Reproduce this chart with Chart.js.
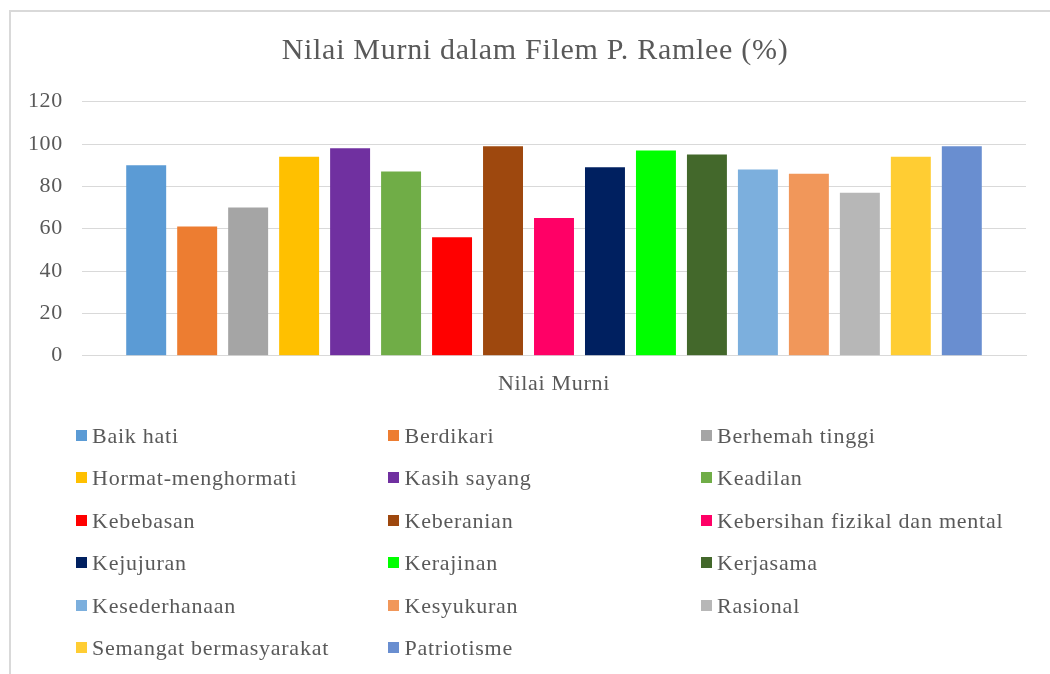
<!DOCTYPE html>
<html>
<head>
<meta charset="utf-8">
<script src="https://cdn.jsdelivr.net/npm/chart.js@4/dist/chart.umd.min.js"></script>
<style>
  html, body { margin: 0; padding: 0; overflow: hidden; background: #fff; width: 1050px; height: 674px; }
  #wrap { position: relative; width: 1050px; height: 674px; overflow: hidden; }
  #frame { position: absolute; left: 9px; top: 10px; width: 2000px; height: 2000px;
           border-top: 2px solid #d9d9d9; border-left: 2px solid #d9d9d9; box-sizing: border-box; }
  #cbox { position: absolute; left: 0; top: 0; width: 1070px; height: 674px; }
  #legend { position: absolute; left: 0; top: 0; width: 1050px; height: 674px; pointer-events: none; }
  .li-box { position: absolute; width: 11px; height: 11px; }
  .li-txt { position: absolute; font-family: "Liberation Serif", "Times New Roman", serif; font-size: 22px;
            line-height: 24px; color: #595959; letter-spacing: 0.75px; white-space: nowrap; }
</style>
</head>
<body>
<div id="wrap">
  <div id="frame"></div>
  <div id="cbox"><canvas id="c"></canvas></div>
  <div id="legend"></div>
</div>
<script>
const categories = ['Nilai Murni'];
const seriesNames = ['Baik hati', 'Berdikari', 'Berhemah tinggi', 'Hormat-menghormati', 'Kasih sayang',
  'Keadilan', 'Kebebasan', 'Keberanian', 'Kebersihan fizikal dan mental', 'Kejujuran', 'Kerajinan',
  'Kerjasama', 'Kesederhanaan', 'Kesyukuran', 'Rasional', 'Semangat bermasyarakat', 'Patriotisme'];
const seriesValues = [90, 61, 70, 94, 98, 87, 56, 99, 65, 89, 97, 95, 88, 86, 77, 94, 99];
const seriesColors = ['#5B9BD5', '#ED7D31', '#A5A5A5', '#FFC000', '#7030A0', '#70AD47', '#FF0000',
  '#9E480E', '#FF0066', '#002060', '#00FF00', '#43682B', '#7CAFDD', '#F1975A', '#B7B7B7', '#FFCD33', '#698ED0'];
const titleText = 'Nilai Murni dalam Filem P. Ramlee (%)';

const FONT = '"Liberation Serif", "Times New Roman", serif';
const TXT = '#595959';
const GRID = '#d9d9d9';

const spacingPlugin = {
  id: 'spacing',
  beforeUpdate(chart) { chart.ctx.letterSpacing = '0.7px'; },
  beforeDraw(chart) { chart.ctx.letterSpacing = '0.7px'; }
};

const datasets = seriesNames.map((name, i) => ({
  label: name,
  data: [seriesValues[i]],
  backgroundColor: seriesColors[i],
  borderWidth: 0,
  barPercentage: 0.784,
  categoryPercentage: 0.918,
  yAxisID: 'y'
}));

const chart = new Chart(document.getElementById('c'), {
  type: 'bar',
  data: { labels: categories, datasets },
  plugins: [spacingPlugin],
  options: {
    responsive: true,
    maintainAspectRatio: false,
    animation: false,
    layout: { padding: 0 },
    plugins: {
      legend: { display: false },
      tooltip: { enabled: false },
      title: {
        display: true,
        text: titleText,
        color: TXT,
        font: { family: FONT, size: 30, weight: 'normal', lineHeight: 1.2 },
        padding: { top: 33, bottom: 32.7 }
      }
    },
    scales: {
      x: {
        grid: { display: false, drawTicks: false },
        border: { display: true, color: GRID, width: 1 },
        ticks: { color: TXT, font: { family: FONT, size: 22 }, padding: 15 },
        afterFit(scale) { scale.height = 674 - 355.7; }
      },
      y: {
        min: 0, max: 120,
        grid: { color: GRID, lineWidth: 1, drawTicks: false },
        border: { display: false },
        ticks: { stepSize: 20, color: TXT, font: { family: FONT, size: 22 }, padding: 19 },
        afterFit(scale) { scale.width = 82; }
      },
      yRight: {
        position: 'right',
        min: 0, max: 120,
        grid: { display: false, drawTicks: false },
        border: { display: false },
        ticks: { display: false },
        afterFit(scale) { scale.width = 44; }
      }
    }
  }
});

// Legend built from the chart's datasets, 3 columns
const legend = document.getElementById('legend');
chart.data.datasets.forEach((ds, i) => {
  const col = i % 3, row = Math.floor(i / 3);
  const bx = 75.7 + col * 312.5;
  const by = 430 + row * 42.4;
  const b = document.createElement('div');
  b.className = 'li-box';
  b.style.left = bx + 'px';
  b.style.top = by + 'px';
  b.style.background = ds.backgroundColor;
  legend.appendChild(b);
  const t = document.createElement('div');
  t.className = 'li-txt';
  t.style.left = (bx + 16.3) + 'px';
  t.style.top = (by - 6.1) + 'px';
  t.textContent = ds.label;
  legend.appendChild(t);
});
</script>
</body>
</html>
